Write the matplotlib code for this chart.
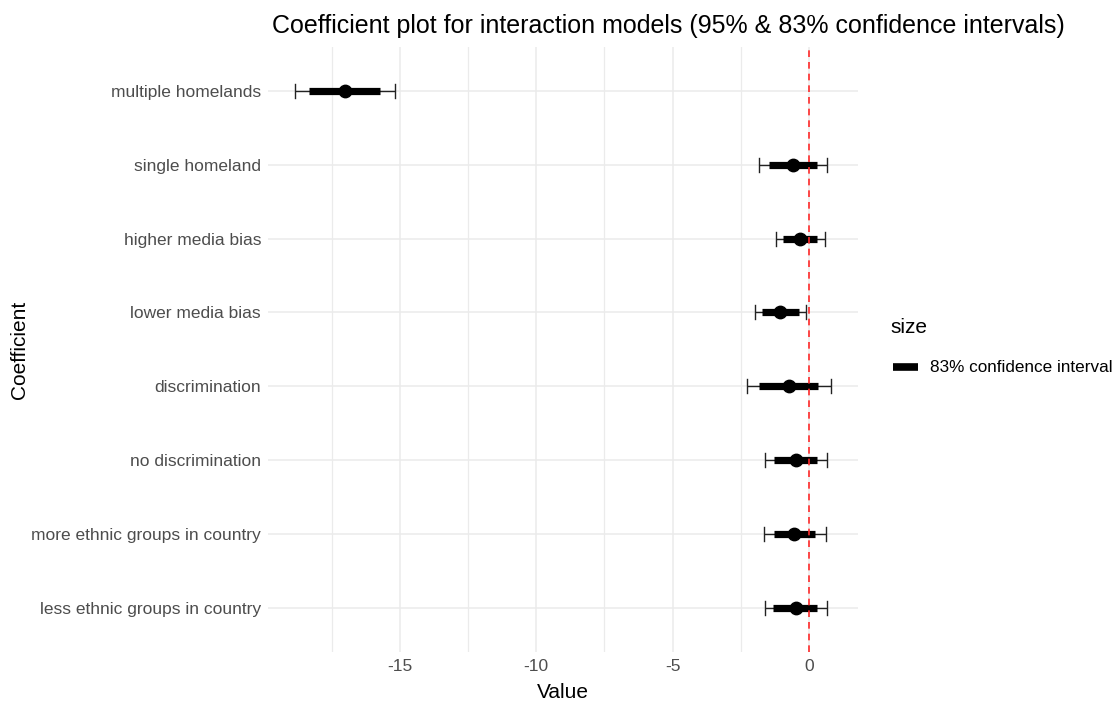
import matplotlib
matplotlib.use("Agg")
import matplotlib.pyplot as plt
from matplotlib.lines import Line2D

plt.rcParams["font.family"] = ["Liberation Sans", "DejaVu Sans"]

# values, bottom row first
coefs = [
    "less ethnic groups in country",
    "more ethnic groups in country",
    "no discrimination",
    "discrimination",
    "lower media bias",
    "higher media bias",
    "single homeland",
    "multiple homelands",
]
estimate = [-0.47, -0.55, -0.47, -0.74, -1.06, -0.34, -0.59, -17.00]
ci95_low = [-1.63, -1.64, -1.63, -2.29, -1.98, -1.21, -1.82, -18.85]
ci95_high = [0.65, 0.60, 0.65, 0.81, -0.11, 0.57, 0.67, -15.18]
ci83_low = [-1.32, -1.27, -1.27, -1.84, -1.74, -0.96, -1.48, -18.33]
ci83_high = [0.27, 0.22, 0.27, 0.31, -0.39, 0.27, 0.28, -15.74]

major_ticks = [-15, -10, -5, 0]
minor_ticks = [-17.5, -12.5, -7.5, -2.5]

W, H = 1115, 704
fig = plt.figure(figsize=(W / 100, H / 100), dpi=100)
ax = fig.add_axes([0.2404, 0.0739, 0.5291, 0.8598])

ypos = list(range(1, len(coefs) + 1))
grid_col = "#EBEBEB"

for x in major_ticks:
    ax.axvline(x, color=grid_col, lw=1.1, zorder=0)
for x in minor_ticks:
    ax.axvline(x, color=grid_col, lw=0.9, zorder=0)
for y in ypos:
    ax.axhline(y, color=grid_col, lw=1.1, zorder=0)

# 95% whiskers with caps
for y, lo, hi in zip(ypos, ci95_low, ci95_high):
    ax.plot([lo, hi], [y, y], color="#222222", lw=1.0, zorder=2, solid_capstyle="butt")
    for x in (lo, hi):
        ax.plot([x, x], [y - 0.095, y + 0.095], color="#222222", lw=1.0, zorder=2)

# 83% thick bars
for y, lo, hi in zip(ypos, ci83_low, ci83_high):
    ax.plot([lo, hi], [y, y], color="black", lw=5.2, zorder=3, solid_capstyle="butt")

ax.scatter(estimate, ypos, s=80, color="black", zorder=4)

ax.axvline(0, color="#FF2A2A", lw=1.2, ls=(0, (4, 3)), zorder=5)

ax.set_xlim(-19.83, 1.79)
ax.set_ylim(0.4, 8.6)
ax.set_xticks(major_ticks)
ax.set_xticklabels([str(t) for t in major_ticks])
ax.set_yticks(ypos)
ax.set_yticklabels(coefs)
ax.tick_params(axis="both", length=0, labelsize=12.5, labelcolor="#4D4D4D")
ax.tick_params(axis="x", pad=5)
ax.tick_params(axis="y", pad=5)
for s in ax.spines.values():
    s.set_visible(False)

fig.text(563 / W, 1 - 693 / H, "Value", fontsize=15, ha="center", va="center")
fig.text(20 / W, 1 - 350 / H, "Coefficient", fontsize=15, ha="center", va="center",
         rotation=90)

fig.text(272 / W, 1 - 26 / H,
         "Coefficient plot for interaction models (95% & 83% confidence intervals)",
         fontsize=18, ha="left", va="center")

# legend drawn by hand to match the reference spacing
fig.text(890 / W, 1 - 328 / H, "size", fontsize=15, ha="left", va="center")
fig.add_artist(Line2D([893 / W, 918 / W], [1 - 367 / H, 1 - 367 / H],
                      color="black", lw=5.5, solid_capstyle="butt",
                      transform=fig.transFigure))
fig.text(930 / W, 1 - 367 / H, "83% confidence interval", fontsize=12.3,
         ha="left", va="center")

fig.savefig("out.png", dpi=100)
